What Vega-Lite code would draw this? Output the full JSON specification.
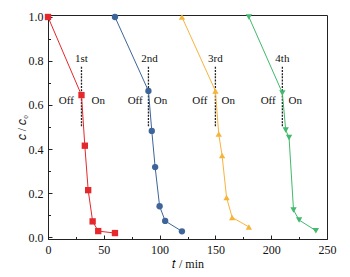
{
  "$schema": "https://vega.github.io/schema/vega-lite/v6.json",
  "width": 279,
  "height": 224,
  "autosize": {"type": "none"},
  "padding": {"left": 48, "top": 15, "right": 23, "bottom": 38},
  "background": "white",
  "config": {
    "view": {"stroke": "#222222", "strokeWidth": 1},
    "font": "Liberation Serif",
    "axis": {
      "labelFont": "Liberation Serif",
      "titleFont": "Liberation Serif",
      "labelFontSize": 12,
      "titleFontSize": 12,
      "labelColor": "#111111",
      "titleColor": "#111111",
      "titleFontWeight": "normal",
      "domainColor": "#222222",
      "tickColor": "#222222",
      "grid": false,
      "labelFlush": false,
      "labelOverlap": false
    }
  },
  "datasets": {
    "pts": [
      {"t": 0, "c": 1.0, "run": "1st"},
      {"t": 30, "c": 0.645, "run": "1st"},
      {"t": 33, "c": 0.415, "run": "1st"},
      {"t": 36, "c": 0.213, "run": "1st"},
      {"t": 40, "c": 0.071, "run": "1st"},
      {"t": 45, "c": 0.027, "run": "1st"},
      {"t": 60, "c": 0.018, "run": "1st"},
      {"t": 60, "c": 1.0, "run": "2nd"},
      {"t": 90, "c": 0.664, "run": "2nd"},
      {"t": 93, "c": 0.482, "run": "2nd"},
      {"t": 96, "c": 0.318, "run": "2nd"},
      {"t": 100, "c": 0.14, "run": "2nd"},
      {"t": 105, "c": 0.073, "run": "2nd"},
      {"t": 120, "c": 0.026, "run": "2nd"},
      {"t": 120, "c": 1.0, "run": "3rd"},
      {"t": 150, "c": 0.664, "run": "3rd"},
      {"t": 153, "c": 0.468, "run": "3rd"},
      {"t": 156, "c": 0.37, "run": "3rd"},
      {"t": 160, "c": 0.18, "run": "3rd"},
      {"t": 165, "c": 0.089, "run": "3rd"},
      {"t": 180, "c": 0.046, "run": "3rd"},
      {"t": 180, "c": 1.0, "run": "4th"},
      {"t": 210, "c": 0.655, "run": "4th"},
      {"t": 213, "c": 0.486, "run": "4th"},
      {"t": 216, "c": 0.452, "run": "4th"},
      {"t": 220, "c": 0.123, "run": "4th"},
      {"t": 225, "c": 0.077, "run": "4th"},
      {"t": 240, "c": 0.029, "run": "4th"}
    ],
    "switches": [
      {"t": 30, "c1": 0.503, "c2": 0.78},
      {"t": 90, "c1": 0.503, "c2": 0.78},
      {"t": 150, "c1": 0.503, "c2": 0.78},
      {"t": 210, "c1": 0.503, "c2": 0.78}
    ],
    "labels": [
      {"t": 30, "c": 0.807, "text": "1st"},
      {"t": 91, "c": 0.807, "text": "2nd"},
      {"t": 150, "c": 0.807, "text": "3rd"},
      {"t": 210, "c": 0.807, "text": "4th"},
      {"t": 16.4, "c": 0.618, "text": "Off"},
      {"t": 45.1, "c": 0.618, "text": "On"},
      {"t": 78.1, "c": 0.618, "text": "Off"},
      {"t": 100.8, "c": 0.618, "text": "On"},
      {"t": 136, "c": 0.618, "text": "Off"},
      {"t": 161.5, "c": 0.618, "text": "On"},
      {"t": 197.3, "c": 0.618, "text": "Off"},
      {"t": 221.6, "c": 0.618, "text": "On"}
    ]
  },
  "encoding": {
    "x": {
      "field": "t",
      "type": "quantitative",
      "scale": {"domain": [0, 250], "nice": false, "zero": false},
      "axis": {
        "title": "𝑡 / min",
        "values": [0, 25, 50, 75, 100, 125, 150, 175, 200, 225, 250],
        "labelExpr": "datum.value % 50 == 0 ? datum.label : ''",
        "tickSize": {"condition": {"test": "datum.value % 50 == 0", "value": -4}, "value": -2.5},
        "labelPadding": 9,
        "titleX": 139.5,
        "titleY": 24,
        "titleBaseline": "middle",
        "titleAlign": "center"
      }
    },
    "y": {
      "field": "c",
      "type": "quantitative",
      "scale": {"domain": [-0.009, 1.009], "nice": false, "zero": false},
      "axis": {
        "title": "𝑐 / 𝑐₀",
        "values": [0, 0.1, 0.2, 0.3, 0.4, 0.5, 0.6, 0.7, 0.8, 0.9, 1.0],
        "format": ".1f",
        "labelExpr": "round(datum.value * 10) % 2 == 0 ? datum.label : ''",
        "tickSize": {"condition": {"test": "round(datum.value * 10) % 2 == 0", "value": -4}, "value": -2.5},
        "labelPadding": 9,
        "titleX": -27,
        "titleY": 112,
        "titleAngle": -90,
        "titleBaseline": "middle",
        "titleAlign": "center"
      }
    }
  },
  "layer": [
    {
      "data": {"name": "switches"},
      "mark": {"type": "rule", "color": "#222222", "strokeWidth": 1.3, "strokeDash": [2, 1.2]},
      "encoding": {
        "y": {"field": "c1", "type": "quantitative"},
        "y2": {"field": "c2"}
      }
    },
    {
      "data": {"name": "pts"},
      "mark": {"type": "line", "strokeWidth": 1},
      "encoding": {
        "color": {
          "field": "run",
          "type": "nominal",
          "scale": {"domain": ["1st", "2nd", "3rd", "4th"], "range": ["#e4282c", "#3d6599", "#f7b43a", "#42b96c"]},
          "legend": null
        },
        "detail": {"field": "run"}
      }
    },
    {
      "data": {"name": "pts"},
      "mark": {"type": "point", "filled": true, "opacity": 1, "size": 40},
      "encoding": {
        "color": {"field": "run", "type": "nominal", "legend": null},
        "shape": {
          "field": "run",
          "type": "nominal",
          "scale": {"domain": ["1st", "2nd", "3rd", "4th"], "range": ["square", "circle", "triangle-up", "triangle-down"]},
          "legend": null
        }
      }
    },
    {
      "data": {"name": "labels"},
      "mark": {"type": "text", "font": "Liberation Serif", "fontSize": 11, "color": "#111111", "align": "center", "baseline": "middle"},
      "encoding": {
        "text": {"field": "text"}
      }
    }
  ]
}
